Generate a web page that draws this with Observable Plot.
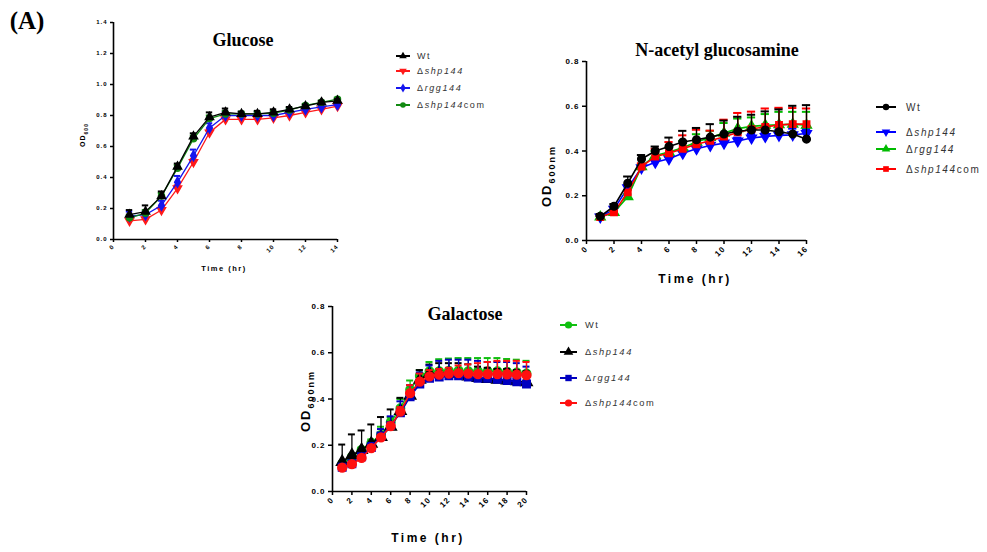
<!DOCTYPE html>
<html>
<head>
<meta charset="utf-8">
<script src="https://cdn.jsdelivr.net/npm/d3@7"></script>
<script src="https://cdn.jsdelivr.net/npm/@observablehq/plot@0.6"></script>
<style>
  html, body { margin: 0; padding: 0; background: #fff; }
  #root { position: relative; width: 987px; height: 552px; overflow: hidden; background: #fff; font-family: "Liberation Sans", Arial, sans-serif; }
  .abs { position: absolute; white-space: nowrap; }
  .title { font-family: "Liberation Serif", "Times New Roman", serif; font-weight: bold; color: #000; }
  .lab { font-weight: bold; color: #000; }
</style>
</head>
<body>
<div id="root"></div>
<script>
// ---------- DATA ----------
// Glucose (hours 1..14)
const gluTime = [1,2,3,4,5,6,7,8,9,10,11,12,13,14];
const gluWt      = [0.16,0.18,0.28,0.47,0.665,0.79,0.82,0.81,0.81,0.82,0.84,0.86,0.885,0.895];
const gluShp     = [0.12,0.13,0.19,0.33,0.50,0.69,0.775,0.775,0.775,0.785,0.80,0.82,0.84,0.86];
const gluRgg     = [0.15,0.16,0.22,0.37,0.54,0.72,0.80,0.80,0.80,0.80,0.82,0.84,0.855,0.87];
const gluCom     = [0.14,0.17,0.28,0.46,0.65,0.78,0.81,0.81,0.81,0.815,0.835,0.865,0.885,0.905];
const gluWtErr   = [0.03,0.04,0.03,0.02,0.02,0.03,0.025,0.015,0.02,0.02,0.015,0.01,0.01,0.01];
const gluShpErr  = [0.02,0.02,0.02,0.02,0.02,0.02,0.02,0.015,0.015,0.015,0.015,0.01,0.01,0.01];
const gluRggErr  = [0.03,0.02,0.03,0.04,0.04,0.03,0.025,0.02,0.02,0.02,0.02,0.015,0.01,0.01];
const gluComErr  = [0.02,0.02,0.02,0.02,0.02,0.02,0.02,0.015,0.015,0.015,0.015,0.01,0.01,0.01];

// N-acetyl glucosamine (hours 1..16)
const nagTime = [1,2,3,4,5,6,7,8,9,10,11,12,13,14,15,16];
const nagWt     = [0.108,0.153,0.256,0.364,0.40,0.42,0.44,0.45,0.462,0.476,0.488,0.494,0.494,0.486,0.476,0.453];
const nagShp    = [0.105,0.14,0.235,0.325,0.35,0.365,0.39,0.41,0.425,0.435,0.445,0.458,0.465,0.47,0.472,0.478];
const nagRgg    = [0.105,0.125,0.196,0.33,0.38,0.395,0.415,0.44,0.46,0.48,0.50,0.51,0.515,0.517,0.52,0.515];
const nagCom    = [0.105,0.126,0.215,0.33,0.375,0.39,0.41,0.43,0.446,0.464,0.483,0.498,0.508,0.516,0.52,0.52];
const nagWtErr  = [0.01,0.01,0.03,0.018,0.02,0.04,0.05,0.053,0.058,0.06,0.065,0.068,0.083,0.10,0.126,0.152];
const nagShpErr = [0.005,0.01,0.01,0.01,0.01,0.01,0.01,0.01,0.01,0.012,0.015,0.018,0.02,0.025,0.028,0.02];
const nagRggErr = [0.005,0.005,0.01,0.01,0.02,0.02,0.03,0.035,0.03,0.045,0.045,0.04,0.05,0.058,0.055,0.06];
const nagComErr = [0.005,0.005,0.01,0.015,0.035,0.05,0.06,0.065,0.045,0.076,0.087,0.078,0.082,0.077,0.072,0.07];

// Galactose (hours 1..20)
const galTime = [1,2,3,4,5,6,7,8,9,10,11,12,13,14,15,16,17,18,19,20];
const galWt     = [0.12,0.15,0.18,0.21,0.245,0.30,0.36,0.44,0.50,0.52,0.52,0.522,0.523,0.52,0.52,0.52,0.52,0.518,0.515,0.51];
const galShp    = [0.128,0.157,0.18,0.207,0.236,0.28,0.348,0.414,0.483,0.509,0.511,0.511,0.509,0.497,0.491,0.487,0.483,0.48,0.477,0.473];
const galRgg    = [0.105,0.12,0.15,0.19,0.24,0.285,0.34,0.41,0.465,0.49,0.495,0.50,0.50,0.495,0.49,0.49,0.485,0.48,0.475,0.465];
const galCom    = [0.103,0.118,0.145,0.188,0.234,0.283,0.345,0.425,0.475,0.498,0.505,0.51,0.512,0.51,0.508,0.508,0.508,0.507,0.505,0.503];
const galWtErr  = [0.01,0.01,0.01,0.015,0.035,0.02,0.04,0.04,0.025,0.04,0.052,0.053,0.054,0.057,0.057,0.057,0.057,0.055,0.055,0.055];
const galShpErr = [0.075,0.09,0.084,0.083,0.086,0.075,0.057,0.02,0.042,0.04,0.044,0.044,0.046,0.053,0.049,0.048,0.047,0.05,0.048,0.047];
const galRggErr = [0.01,0.01,0.01,0.02,0.03,0.04,0.05,0.05,0.05,0.055,0.07,0.07,0.07,0.075,0.075,0.07,0.075,0.08,0.08,0.075];
const galComErr = [0.005,0.005,0.01,0.01,0.01,0.015,0.02,0.035,0.035,0.027,0.025,0.025,0.033,0.04,0.047,0.052,0.057,0.058,0.06,0.057];

const seriesNames = ["Wt", "\u0394shp144", "\u0394rgg144", "\u0394shp144com"];

// ---------- helpers ----------
const sqrt3 = Math.sqrt(3);
const triangleDown = {
  draw(context, size) {
    const y = -Math.sqrt(size / (sqrt3 * 3));
    context.moveTo(0, -y * 2);
    context.lineTo(-sqrt3 * y, y);
    context.lineTo(sqrt3 * y, y);
    context.closePath();
  }
};

function rows(time, vals, errs) {
  return time.map((t, i) => ({t, v: vals[i], e: errs[i]}));
}

function seriesMarks(data, color, symbol, r, capHalf, lw) {
  return [
    Plot.ruleX(data, {x: "t", y1: "v", y2: d => d.v + d.e, stroke: color, strokeWidth: 1.3}),
    Plot.ruleY(data, {y: d => d.v + d.e, x1: d => d.t - capHalf, x2: d => d.t + capHalf, stroke: color, strokeWidth: 2}),
    Plot.line(data, {x: "t", y: "v", stroke: color, strokeWidth: lw}),
    Plot.dot(data, {x: "t", y: "v", fill: color, stroke: color, symbol: symbol, r: r})
  ];
}

const root = document.getElementById("root");

function place(el, left, top) {
  el.style.position = "absolute";
  el.style.left = left + "px";
  el.style.top = top + "px";
  root.appendChild(el);
}

function addText(cx, cy, html, cls, style, rotate) {
  const d = document.createElement("div");
  d.className = "abs " + cls;
  d.innerHTML = html;
  d.style.left = cx + "px";
  d.style.top = cy + "px";
  d.style.transform = "translate(-50%,-50%)" + (rotate ? " rotate(" + rotate + "deg)" : "");
  Object.assign(d.style, style || {});
  root.appendChild(d);
}

function panel(opts) {
  const {left, top, width, height, mL, mT, mR, mB, xMax, xStep, yMax, fontSize, series, capHalf, tickSize, lw} = opts;
  const marks = [];
  for (const s of series) marks.push(...seriesMarks(s.data, s.color, s.symbol, s.r, capHalf, lw));
  const chart = Plot.plot({
    width, height,
    marginLeft: mL, marginTop: mT, marginRight: mR, marginBottom: mB,
    style: {fontFamily: "'Liberation Sans', Arial, sans-serif", fontSize: fontSize + "px", fontWeight: "bold", color: "#000", letterSpacing: "1px", background: "transparent"},
    x: {domain: [0, xMax], label: null},
    y: {domain: [0, yMax], label: null},
    marks: [
      Plot.axisX({ticks: d3.range(0, xMax + 0.001, xStep), tickRotate: -45, tickSize, tickPadding: 3, stroke: "#000", strokeWidth: 1.5, tickFormat: d => String(d), label: null}),
      Plot.axisY({ticks: d3.range(0, yMax + 0.001, 0.2), tickSize, tickPadding: 3, stroke: "#000", strokeWidth: 1.5, tickFormat: d3.format(".1f"), label: null}),
      ...marks,
      Plot.ruleX([0], {stroke: "#000", strokeWidth: 1.6}),
      Plot.ruleY([0], {stroke: "#000", strokeWidth: 1.6})
    ]
  });
  place(chart, left, top);
}

function legend(left, top, items, opts) {
  const {w, h, fontSize, lineLen, textX, r} = opts;
  const svg = d3.create("svg").attr("width", w).attr("height", h)
    .style("font-family", "'Liberation Sans', Arial, sans-serif").style("font-size", fontSize + "px");
  items.forEach(it => {
    const g = svg.append("g").attr("transform", `translate(0,${it.y})`);
    g.append("line").attr("x1", 0).attr("x2", lineLen).attr("stroke", it.color).attr("stroke-width", 2);
    g.append("path").attr("transform", `translate(${lineLen / 2},0)`).attr("d", d3.symbol(it.symbol, Math.PI * r * r)()).attr("fill", it.color);
    const t = g.append("text").attr("x", textX).attr("y", fontSize * 0.35).attr("fill", "#333").style("letter-spacing", "1.6px");
    if (it.name === "Wt") t.text("Wt");
    else {
      t.append("tspan").text("\u0394");
      const m = it.name.match(/^\u0394(shp144|rgg144)(com)?$/);
      t.append("tspan").style("font-style", "italic").text(m[1]);
      if (m[2]) t.append("tspan").text(m[2]);
    }
  });
  place(svg.node(), left, top);
}

// ---------- colours ----------
const G = {black: "#000", red: "#ff1a1a", blue: "#1515ee", green: "#128a12"};
const N = {black: "#000", red: "#ff0000", blue: "#0000ff", green: "#00bb00"};
const A = {black: "#000", red: "#ff1010", blue: "#0000c0", green: "#10c010"};

// ---------- Glucose ----------
panel({
  left: 70, top: 12, width: 277, height: 257, mL: 43, mT: 10, mR: 10, mB: 30,
  xMax: 14, xStep: 2, yMax: 1.4, fontSize: 6, capHalf: 0.2, tickSize: 3, lw: 1.3,
  series: [
    {data: rows(gluTime, gluShp, gluShpErr), color: G.red, symbol: triangleDown, r: 3},
    {data: rows(gluTime, gluRgg, gluRggErr), color: G.blue, symbol: "diamond", r: 3},
    {data: rows(gluTime, gluCom, gluComErr), color: G.green, symbol: "circle", r: 3},
    {data: rows(gluTime, gluWt, gluWtErr), color: G.black, symbol: "triangle", r: 3}
  ]
});
addText(243, 40, "Glucose", "title", {fontSize: "18px"});
addText(84, 135, "OD<sub style='font-size:5px'>600</sub>", "lab", {fontSize: "7px", letterSpacing: "1px"}, -90);
addText(224, 268, "Time (hr)", "lab", {fontSize: "7.5px", letterSpacing: "1.5px"});
legend(396, 48, [
  {name: seriesNames[0], color: G.black, symbol: d3.symbolTriangle, y: 8},
  {name: seriesNames[1], color: G.red, symbol: triangleDown, y: 23},
  {name: seriesNames[2], color: G.blue, symbol: d3.symbolDiamond, y: 40},
  {name: seriesNames[3], color: G.green, symbol: d3.symbolCircle, y: 57}
], {w: 120, h: 70, fontSize: 9, lineLen: 14, textX: 21, r: 2.8});

// ---------- N-acetyl glucosamine ----------
panel({
  left: 540, top: 50, width: 278, height: 222, mL: 46, mT: 11, mR: 12, mB: 32,
  xMax: 16, xStep: 2, yMax: 0.8, fontSize: 8, capHalf: 0.3, tickSize: 4, lw: 1.6,
  series: [
    {data: rows(nagTime, nagShp, nagShpErr), color: N.blue, symbol: triangleDown, r: 3.6},
    {data: rows(nagTime, nagRgg, nagRggErr), color: N.green, symbol: "triangle", r: 3.6},
    {data: rows(nagTime, nagCom, nagComErr), color: N.red, symbol: "square", r: 3.6},
    {data: rows(nagTime, nagWt, nagWtErr), color: N.black, symbol: "circle", r: 3.8}
  ]
});
addText(717, 50, "N-acetyl glucosamine", "title", {fontSize: "18px"});
addText(548, 176, "OD<sub style='font-size:9px'>600nm</sub>", "lab", {fontSize: "13px", letterSpacing: "2px"}, -90);
addText(695, 279, "Time (hr)", "lab", {fontSize: "12px", letterSpacing: "2.5px"});
legend(876, 95, [
  {name: seriesNames[0], color: N.black, symbol: d3.symbolCircle, y: 12},
  {name: seriesNames[1], color: N.blue, symbol: triangleDown, y: 37},
  {name: seriesNames[2], color: N.green, symbol: d3.symbolTriangle, y: 54},
  {name: seriesNames[3], color: N.red, symbol: d3.symbolSquare, y: 74}
], {w: 111, h: 90, fontSize: 10, lineLen: 20, textX: 30, r: 3.2});

// ---------- Galactose ----------
panel({
  left: 295, top: 295, width: 243, height: 228, mL: 37, mT: 11, mR: 12, mB: 32,
  xMax: 20, xStep: 2, yMax: 0.8, fontSize: 8, capHalf: 0.36, tickSize: 4, lw: 1.6,
  series: [
    {data: rows(galTime, galWt, galWtErr), color: A.green, symbol: "circle", r: 4.2},
    {data: rows(galTime, galShp, galShpErr), color: A.black, symbol: "triangle", r: 4.2},
    {data: rows(galTime, galRgg, galRggErr), color: A.blue, symbol: "square", r: 4.2},
    {data: rows(galTime, galCom, galComErr), color: A.red, symbol: "circle", r: 4.4}
  ]
});
addText(465, 314, "Galactose", "title", {fontSize: "18px"});
addText(307, 401, "OD<sub style='font-size:9px'>600nm</sub>", "lab", {fontSize: "13px", letterSpacing: "2px"}, -90);
addText(428, 538, "Time (hr)", "lab", {fontSize: "12px", letterSpacing: "2.5px"});
legend(560, 312, [
  {name: seriesNames[0], color: A.green, symbol: d3.symbolCircle, y: 13},
  {name: seriesNames[1], color: A.black, symbol: d3.symbolTriangle, y: 40},
  {name: seriesNames[2], color: A.blue, symbol: d3.symbolSquare, y: 66},
  {name: seriesNames[3], color: A.red, symbol: d3.symbolCircle, y: 91}
], {w: 130, h: 100, fontSize: 9.3, lineLen: 17, textX: 25, r: 3.6});

// ---------- panel tag ----------
addText(27, 21, "(A)", "title", {fontSize: "25px"});
</script>
</body>
</html>
